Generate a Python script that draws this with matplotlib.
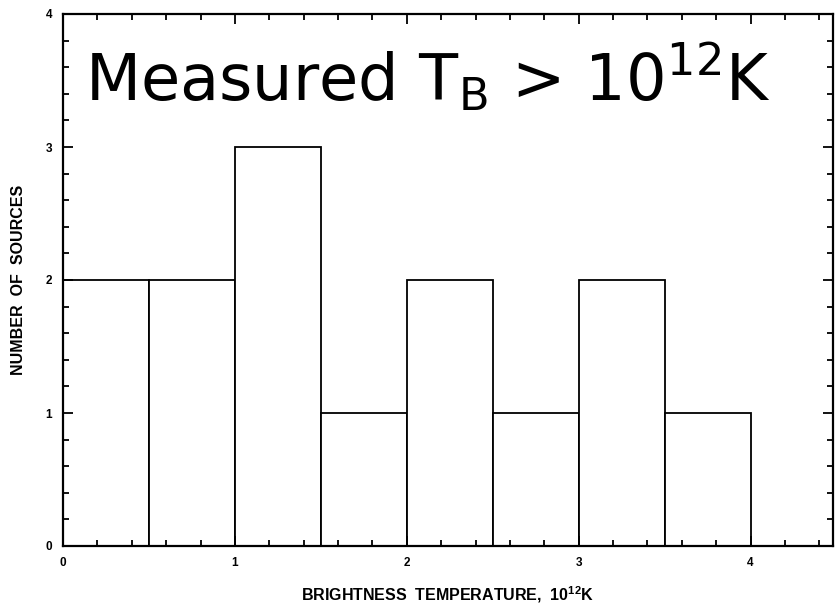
import numpy as np
import matplotlib.pyplot as plt
from matplotlib.ticker import MultipleLocator

# histogram of brightness temperatures (units of 1e12 K)
bin_edges = [0.0, 0.5, 1.0, 1.5, 2.0, 2.5, 3.0, 3.5, 4.0]
counts = [2, 2, 3, 1, 2, 1, 2, 1]
x_ticks = [0, 1, 2, 3, 4]
y_ticks = [0, 1, 2, 3, 4]

plt.rcParams['font.family'] = ['Liberation Sans', 'DejaVu Sans']

fig = plt.figure(figsize=(8.36, 6.06), dpi=100)
ax = fig.add_axes([63/836, 60/606, 770/836, 532/606])

lefts = np.array(bin_edges[:-1])
widths = np.diff(bin_edges)
ax.bar(lefts, counts, width=widths, align='edge', facecolor='white',
       edgecolor='black', linewidth=1.3)

ax.set_xlim(0, 4.48)
ax.set_ylim(0, 4)
ax.set_xticks(x_ticks)
ax.set_yticks(y_ticks)
ax.xaxis.set_minor_locator(MultipleLocator(0.2))
ax.yaxis.set_minor_locator(MultipleLocator(0.2))
ax.tick_params(which='both', direction='in', top=True, right=True, width=1.3,
               labelsize=8.5, pad=8)
ax.tick_params(which='major', length=7)
ax.tick_params(which='minor', length=4)
for lab in ax.get_xticklabels() + ax.get_yticklabels():
    lab.set_fontweight('bold')
for sp in ax.spines.values():
    sp.set_linewidth(1.6)

ax.set_xlabel('BRIGHTNESS  TEMPERATURE,  10$^{\\mathregular{12}}$K',
              fontsize=11.5, fontweight='bold', labelpad=11)
ax.set_ylabel('NUMBER  OF  SOURCES', fontsize=11.5, fontweight='bold', labelpad=14)

ax.text(0.13, 3.35, 'Measured T$_{\\mathregular{B}}$ > 10$^{\\mathregular{12}}$K',
        fontsize=46, family='DejaVu Sans', va='baseline', ha='left')

fig.savefig('out.png', dpi=100)
